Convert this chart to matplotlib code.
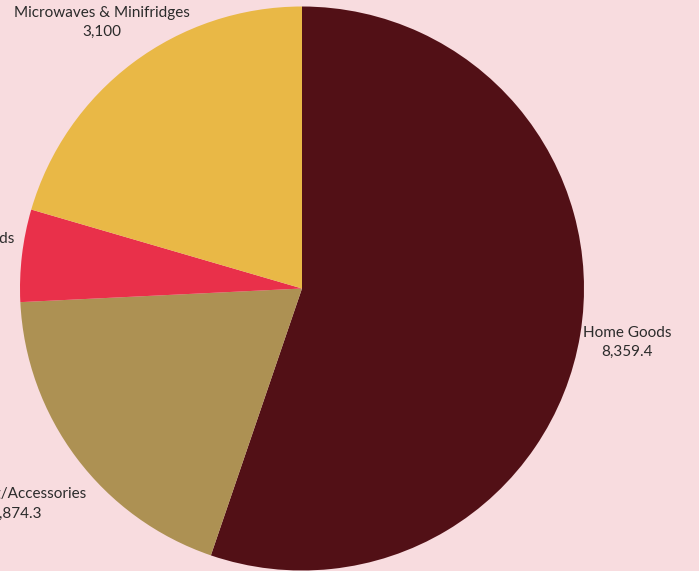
import numpy as np
import matplotlib.pyplot as plt

categories = ["Home Goods", "Clothing/Accessories", "Sporting Goods", "Microwaves & Minifridges"]
values = [8359.4, 2874.3, 800.0, 3100.0]
value_labels = ["8,359.4", "2,874.3", "800", "3,100"]

COLORS = ["#521016", "#ad9153", "#e9304a", "#e9b846"]
BG = "#f8dcdf"
LABEL_DIST = [1.17, 1.27, 1.215, 1.18]

plt.rcParams["font.family"] = ["Lato", "DejaVu Sans"]

fig = plt.figure(figsize=(6.99, 5.71), dpi=100, facecolor=BG)
ax = fig.add_axes([0, 0, 1, 1])
ax.set_facecolor(BG)

wedges, _ = ax.pie(values, colors=COLORS, startangle=90, counterclock=False,
                   wedgeprops=dict(linewidth=0))

for w, name, vl, d in zip(wedges, categories, value_labels, LABEL_DIST):
    mid = np.deg2rad((w.theta1 + w.theta2) / 2)
    ax.text(d * np.cos(mid), d * np.sin(mid), f"{name}\n{vl}", ha="center", va="center",
            multialignment="center", fontsize=11, color="#2b2b2b", linespacing=1.5)

# centre at (302, 288.5) px, radius 282 px
r = 282
ax.set_xlim(-302 / r, (699 - 302) / r)
ax.set_ylim(-(571 - 288.5) / r, 288.5 / r)
ax.set_aspect("auto")
ax.axis("off")

fig.savefig("out.png", dpi=100, facecolor=BG)
